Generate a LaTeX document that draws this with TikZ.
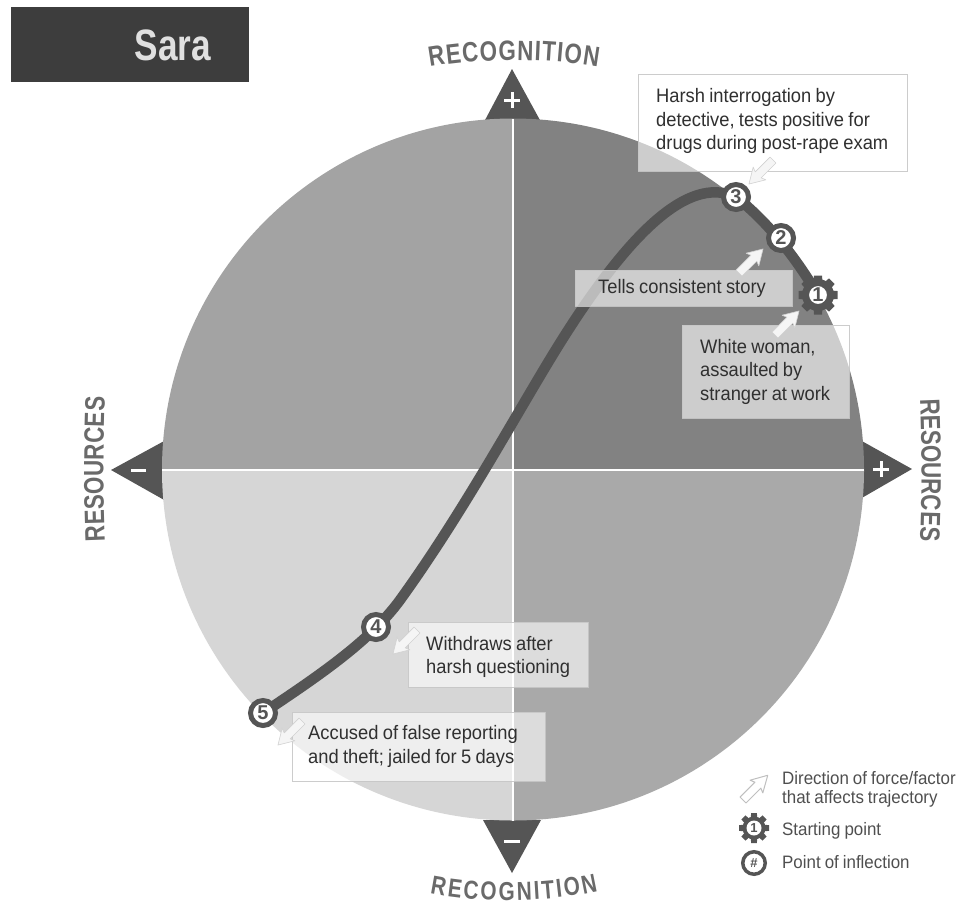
\documentclass[tikz,border=0pt]{standalone}
\usepackage{fontspec}
\usetikzlibrary{decorations.text}
\setmainfont{Liberation Sans}
\newfontfamily\bodyf[FakeStretch=0.94,WordSpace=0.8]{Liberation Sans}
\newfontfamily\legf[FakeStretch=0.94,WordSpace=0.85]{Liberation Sans}
\newfontfamily\condf[FakeStretch=0.8]{Liberation Sans Bold}
\definecolor{qtr}{HTML}{828282}
\definecolor{qtl}{HTML}{A3A3A3}
\definecolor{qbr}{HTML}{A9A9A9}
\definecolor{qbl}{HTML}{D6D6D6}
\definecolor{dk}{HTML}{555555}
\definecolor{lab}{HTML}{6A6A6A}
\definecolor{txt}{HTML}{303030}
\tikzset{
  tbox/.style={draw=black!22,line width=.8pt,fill=white,fill opacity=.6,draw opacity=.9,inner sep=0pt,anchor=north west},
  ttext/.style={text=txt,font=\bodyf\fontsize{19.5}{23.5}\selectfont,align=left,inner sep=0pt,anchor=west},
  forcearrow/.pic={\draw[fill=white!96!black,draw=black!18,line width=.6pt,line join=round] (0,-4.2) -- (21,-4.2) -- (19,-9) -- (34,0) -- (19,9) -- (21,4.2) -- (0,4.2) -- cycle;},
  legendarrow/.pic={\draw[fill=white,draw=black!25,line width=1pt,line join=round] (0,-4.2) -- (21,-4.2) -- (19,-9) -- (35,0) -- (19,9) -- (21,4.2) -- (0,4.2) -- cycle;},
  marker/.style={circle,draw=dk,fill=white,line width=5pt,minimum size=25pt,inner sep=0pt,text=dk,
    font=\fontsize{20}{20}\selectfont\bfseries},
  legtext/.style={anchor=west,inner sep=0pt,text=txt!85,align=left,font=\legf\fontsize{18}{19}\selectfont},
  axislab/.style={decorate,decoration={text along path,text align={fit to path},raise=0pt,
    text={|\condf\fontsize{28}{28}\selectfont\color{lab}|#1}}},
  axislabc/.style={decorate,decoration={text along path,text align={fit to path},raise=0pt,
    text={|\condf\fontsize{26}{26}\selectfont\color{lab}|#1}}},
  axislabb/.style={decorate,decoration={text along path,text align={fit to path},raise=0pt,
    text={|\condf\fontsize{28}{28}\selectfont\color{lab}|#1}}},
  tri/.style={fill=dk,draw=none},
  sign/.style={white,line width=3pt},
  quadline/.style={white,line width=2pt},
  trajectory/.style={dk,line width=10.5pt,line cap=round,line join=round}
}
\newcommand{\gearat}[4]{% x,y,outer r,inner r
  \fill[dk] (#1,#2) circle (#4);
  \foreach \ang in {0,45,...,315}{
    \fill[dk,shift={(#1,#2)},rotate=\ang] (-#4*.34,0) -- (-#4*.25,-#3) -- (#4*.25,-#3) -- (#4*.34,0) -- cycle;
  }
}
\begin{document}
\begin{tikzpicture}[x=1pt,y=-1pt]
\useasboundingbox (0,0) rectangle (960,905);
\coordinate (c) at (513,469.5);
% title
\node[fill=black!76,minimum width=238pt,minimum height=75pt,inner sep=0pt,anchor=north west] (title) at (11,7) {};
\node[text=black!12,font=\condf\fontsize{44}{44}\selectfont,inner sep=0pt] (sara) at (173,45) {Sara};
% triangles
\fill[tri] (484,122) -- (512,69) -- (541,122) -- cycle;
\fill[tri] (483,820) -- (512,873) -- (541,820) -- cycle;
\fill[tri] (166,440) -- (111,470) -- (166,501) -- cycle;
\fill[tri] (860,440) -- (912,469) -- (860,499) -- cycle;
% quadrants
\fill[qtr] (c) -- +(351,0) arc[start angle=0,end angle=-90,radius=351] -- cycle;
\fill[qtl] (c) -- +(0,-351) arc[start angle=-90,end angle=-180,radius=351] -- cycle;
\fill[qbl] (c) -- +(-351,0) arc[start angle=180,end angle=90,radius=351] -- cycle;
\fill[qbr] (c) -- +(0,351) arc[start angle=90,end angle=0,radius=351] -- cycle;
\draw[quadline] (c) +(0,-351) -- +(0,351);
\draw[quadline] (c) +(-351,0) -- +(351,0);
% signs
\draw[sign] (504,100) -- (520,100) (512,92) -- (512,108);
\draw[sign] (504,841) -- (520,841);
\draw[sign] (131,470) -- (146,470);
\draw[sign] (873,469) -- (889,469) (881,461) -- (881,477);
% axis labels
\path[axislab=RECOGNITION] (430,67) .. controls (480,58) and (545,58) .. (598,67);
\path[axislabc=RECOGNITION] (430,893) .. controls (480,903) and (545,903) .. (598,891);
\path[axislabb=RESOURCES] (105,541) .. controls (103,495) and (103,445) .. (105,397);
\path[axislabb=RESOURCES] (920,399) .. controls (922,445) and (922,495) .. (920,541);
% markers' coordinates
\coordinate (p1) at (818,295);
\coordinate (p2) at (781,238);
\coordinate (p3) at (736,197);
\coordinate (p4) at (376,627);
\coordinate (p5) at (263,713);
% trajectory
\draw[trajectory] (p1) .. controls (796,258) and (768,222) .. (p3)
  .. controls (695,178) and (640,215) .. (560,343)
  .. controls (520,407) and (465,510) .. (400,600)
  .. controls (370,641) and (320,675) .. (p5);
% boxes
\node[tbox,minimum width=269pt,minimum height=97pt] (b3) at (638,74) {};
\node[ttext] (t3) at (656,121) {Harsh interrogation by\\ detective, tests positive for\\ drugs during post-rape exam};
\node[tbox,minimum width=217pt,minimum height=36pt] (b2) at (575,270) {};
\node[ttext,anchor=center] (t2) at (682,288) {Tells consistent story};
\node[tbox,minimum width=167pt,minimum height=93pt] (b1) at (682,325) {};
\node[ttext] (t1) at (700,371.5) {White woman,\\ assaulted by\\ stranger at work};
\node[tbox,minimum width=180pt,minimum height=65pt] (b4) at (408,622) {};
\node[ttext] (t4) at (426,657) {Withdraws after\\ harsh questioning};
\node[tbox,minimum width=253pt,minimum height=69pt] (b5) at (292,712) {};
\node[ttext] (t5) at (308,746.5) {Accused of false reporting\\ and theft; jailed for 5 days};
% force arrows
\coordinate (a3) at (773,160);
\coordinate (a2) at (739,273);
\coordinate (a1) at (775,335);
\coordinate (a4) at (417,630);
\coordinate (a5) at (302,721);
\pic[rotate=225] at (a3) {forcearrow};
\pic[rotate=45] at (a2) {forcearrow};
\pic[rotate=45] at (a1) {forcearrow};
\pic[rotate=225] at (a4) {forcearrow};
\pic[rotate=225] at (a5) {forcearrow};
% markers
\gearat{818}{295}{19.5}{16}
\node[marker,minimum size=22pt,line width=4pt] (n1) at (p1) {1};
\node[marker] (n2) at (p2) {2};
\node[marker] (n3) at (p3) {3};
\node[marker] (n4) at (p4) {4};
\node[marker] (n5) at (p5) {5};
% legend
\coordinate (la) at (743,800);
\pic[rotate=45] at (la) {legendarrow};
\node[legtext] (lt1) at (782,789.5) {Direction of force/factor\\ that affects trajectory};
\gearat{754}{828}{15}{11.5}
\node[circle,fill=white,inner sep=0pt,minimum size=15pt,text=dk,font=\fontsize{13}{13}\selectfont\bfseries] (lg) at (754,828) {1};
\node[legtext] (lt2) at (782,831) {Starting point};
\node[circle,draw=dk,fill=white,line width=3.5pt,minimum size=22.5pt,inner sep=0pt,text=dk,font=\fontsize{13}{13}\selectfont\bfseries] (lh) at (754,863) {\#};
\node[legtext] (lt3) at (782,862) {Point of inflection};
\end{tikzpicture}
\end{document}
